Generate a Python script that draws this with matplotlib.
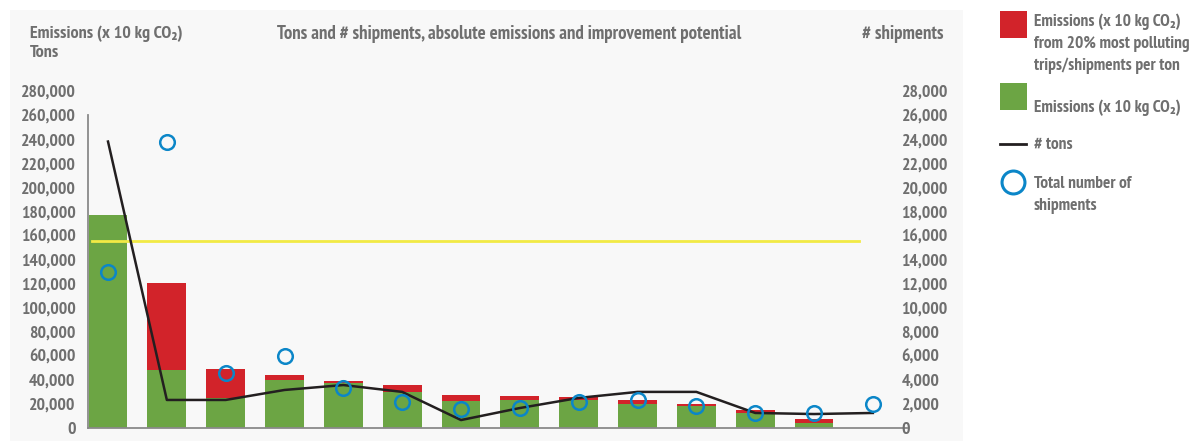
import matplotlib.pyplot as plt
from matplotlib.patches import Rectangle
from matplotlib.lines import Line2D
from matplotlib.ticker import FuncFormatter

plt.rcParams['font.family'] = ['PT Sans Narrow', 'DejaVu Sans']
plt.rcParams['font.weight'] = 'bold'

# emissions per category (x 10 kg CO2) and tons, left axis
emis_green = [177000, 48000, 25000, 40000, 37500, 30000, 22500, 23500, 23500, 20000, 18500, 12500, 4200]
emis_red = [0, 72500, 24000, 4000, 1500, 5700, 5000, 3000, 2500, 3300, 1500, 2500, 3300]
tons = [238000, 23300, 23300, 31600, 35700, 30000, 6600, 16600, 25000, 30000, 30000, 12500, 11600, 12500]
# shipments, right axis
shipments = [13000, 23800, 4600, 6000, 3300, 2200, 1600, 1700, 2200, 2300, 1800, 1250, 1250, 2000]
threshold = 155000

left_ticks = list(range(0, 280001, 20000))
right_ticks = list(range(0, 28001, 2000))

GREEN = '#6ca544'
RED = '#d2232a'
BLUE = '#0b86c8'
LINE = '#231f20'
YELLOW = '#f2ea45'
TXT = '#6f6f6f'

W, H = 1199, 441


def fx(px):
    return px / W


def fy(py):
    return 1 - py / H


fig = plt.figure(figsize=(11.99, 4.41), dpi=100)
fig.patches.append(Rectangle((fx(10), 0), 953 / W, 431 / H, transform=fig.transFigure,
                             facecolor='#f8f8f8', edgecolor='none', zorder=-5))

ax = fig.add_axes([fx(88), 13 / H, 819 / W, 337 / H])
ax.set_facecolor('none')
x = list(range(len(tons)))
xb = x[:len(emis_green)]

ax.bar(xb, emis_green, width=0.66, color=GREEN, edgecolor='none', zorder=2)
ax.bar(xb, emis_red, width=0.66, bottom=emis_green, color=RED, edgecolor='none', zorder=2)
ax.axhline(threshold, xmin=0.005, xmax=0.941, color=YELLOW, linewidth=2, zorder=3)
ax.plot(x, tons, color=LINE, linewidth=1.8, zorder=4)

ax.set_xlim(-0.34, 13.58)
ax.set_ylim(0, 280000)
ax.set_xticks([])
ax.set_yticks(left_ticks)
ax.yaxis.set_major_formatter(FuncFormatter(lambda v, p: f'{int(v):,}'))
ax.tick_params(axis='y', length=0, pad=9, labelsize=12.8, labelcolor=TXT)
for s in ['top', 'right']:
    ax.spines[s].set_visible(False)
ax.spines['left'].set_bounds(0, 260000)
ax.spines['left'].set_color('#8a8a8a')
ax.spines['left'].set_linewidth(1.3)
ax.spines['bottom'].set_color('#8a8a8a')
ax.spines['bottom'].set_linewidth(1.3)

ax2 = ax.twinx()
ax2.plot(x, shipments, linestyle='none', marker='o', markersize=10.5, markerfacecolor='none',
         markeredgecolor=BLUE, markeredgewidth=1.8, zorder=5)
ax2.set_ylim(0, 28000)
ax2.set_yticks(right_ticks)
ax2.yaxis.set_major_formatter(FuncFormatter(lambda v, p: f'{int(v):,}'))
ax2.tick_params(axis='y', length=0, pad=-4, labelsize=12.8, labelcolor=TXT)
for s in ax2.spines.values():
    s.set_visible(False)

# headings
fig.text(fx(30), fy(34), 'Emissions (x 10 kg CO\u2082)', ha='left', va='center', fontsize=13, color=TXT)
fig.text(fx(30), fy(53), 'Tons', ha='left', va='center', fontsize=13, color=TXT)
fig.text(fx(509), fy(34), 'Tons and # shipments, absolute emissions and improvement potential',
         ha='center', va='center', fontsize=13.5, color=TXT)
fig.text(fx(943), fy(34), '# shipments', ha='right', va='center', fontsize=13.5, color=TXT)

# legend
fig.patches.append(Rectangle((fx(1000), fy(38)), 27 / W, 27 / H, transform=fig.transFigure,
                             facecolor=RED, edgecolor='none'))
fig.patches.append(Rectangle((fx(1000), fy(110)), 27 / W, 27 / H, transform=fig.transFigure,
                             facecolor=GREEN, edgecolor='none'))
fig.add_artist(Line2D([fx(1000), fx(1026)], [fy(144), fy(144)], transform=fig.transFigure,
                      color=LINE, linewidth=2))
fig.add_artist(Line2D([fx(1013)], [fy(182)], transform=fig.transFigure, marker='o', markersize=16.5,
                      markerfacecolor='none', markeredgecolor=BLUE, markeredgewidth=2.2))
legend_items = [
    ('Emissions (x 10 kg CO\u2082)\nfrom 20% most polluting\ntrips/shipments per ton', 13),
    ('Emissions (x 10 kg CO\u2082)', 99),
    ('# tons', 137),
    ('Total number of\nshipments', 176),
]
for label, top in legend_items:
    fig.text(fx(1034), fy(top), label, ha='left', va='top', fontsize=12.5, color=TXT, linespacing=1.5)

fig.savefig('out.png', dpi=100)
